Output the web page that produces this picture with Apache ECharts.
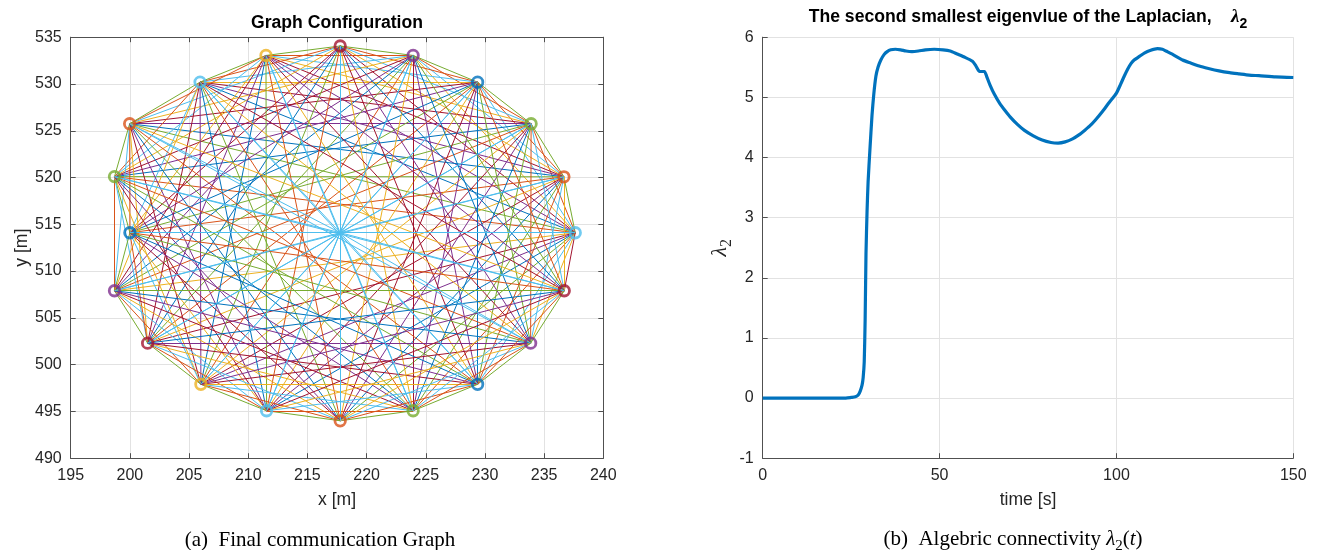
<!DOCTYPE html>
<html><head><meta charset="utf-8">
<script src="https://cdn.jsdelivr.net/npm/echarts@6/dist/echarts.min.js"></script>
<style>html,body{margin:0;padding:0;background:#fff}#c{width:1317px;height:550px}</style>
</head><body><div id="c"></div>
<script>
// ---- data ----
// agents on the final formation, listed counter-clockwise starting at the rightmost one
const nodeX = [237.63,236.67,233.90,229.38,223.93,217.77,211.50,205.93,199.98,198.70,200.00,198.70,201.50,206.00,211.55,217.77,223.93,229.38,233.86,236.70];
const nodeY = [514.10,520.08,525.75,530.19,533.05,534.06,533.05,530.20,525.75,520.10,514.10,507.90,502.30,497.90,495.07,494.00,495.07,497.90,502.30,507.90];
const centerXY = [217.77, 514.10];
// algebraic connectivity over time
const timeS   = [0,10,20,23.5,25,26.2,27,27.6,28.1,28.4,28.7,28.96,29.2,29.5,29.8,30.3,30.9,31.4,32.0,32.6,33.4,34.3,35.2,36.2,37.5,39,40.5,42.2,44,46,48.5,51,53,55,57,59.3,60.3,61.3,62.7,63.3,64.3,65.5,67,68.5,70,72,74,76.5,79,81.5,83.5,85.5,87.6,89.5,91,92.4,94,96.1,98,100,101.2,102.2,103.2,104.1,105,106.5,108,109.5,111.6,113,114,116,118.7,121,123.4,126,129,132,134.7,137.5,140.3,145,150];
const lambda2 = [0,0,0,0,0.01,0.02,0.05,0.12,0.22,0.34,0.6,1.3,2.4,3.1,3.6,4.12,4.7,5.05,5.35,5.5,5.62,5.71,5.76,5.79,5.80,5.79,5.77,5.76,5.77,5.79,5.80,5.79,5.77,5.72,5.67,5.60,5.52,5.43,5.43,5.35,5.20,5.05,4.90,4.78,4.67,4.55,4.45,4.36,4.29,4.25,4.24,4.26,4.31,4.38,4.45,4.52,4.62,4.77,4.92,5.07,5.22,5.35,5.47,5.56,5.62,5.68,5.74,5.78,5.81,5.80,5.77,5.71,5.62,5.57,5.52,5.48,5.44,5.41,5.39,5.37,5.36,5.34,5.33];
// axis ranges [min, max, step]
const graphXAxis = [195, 240, 5];
const graphYAxis = [490, 535, 5];
const timeAxis   = [0, 150, 50];
const lambdaAxis = [-1, 6, 1];

// ---- styles ----
const palette = ['#0072BD','#D95319','#EDB120','#7E2F8E','#77AC30','#4DBEEE','#A2142F'];
const FF = 'Liberation Sans, Arial, sans-serif';
const SERIF = 'Liberation Serif, Times New Roman, serif';
const TXT = '#262626';
const AX = '#505050';
const GRIDC = '#e2e2e2';

const edges = [];
for (let a = 0; a < nodeX.length; a++) {
  for (let b = a + 1; b < nodeX.length; b++) {
    edges.push({coords: [[nodeX[a], nodeY[a]], [nodeX[b], nodeY[b]]],
      lineStyle: {color: palette[(4 * (b - a)) % 7]}});
  }
}
const spokes = nodeX.map((x, i) => ({coords: [centerXY, [x, nodeY[i]]]}));
const nodes = nodeX.map((x, i) => ({value: [x, nodeY[i]],
  itemStyle: {color: 'rgba(255,255,255,0)', borderColor: palette[(5 + 3 * i) % 7], borderWidth: 2.8}}));

function valAxis(grid, rng, pos, opts) {
  return Object.assign({
    gridIndex: grid, type: 'value', min: rng[0], max: rng[1], interval: rng[2], position: pos,
    axisLine: {show: true, onZero: false, lineStyle: {color: AX, width: 1}},
    axisTick: {show: true, inside: true, length: 5, lineStyle: {color: AX}},
    axisLabel: {show: true, color: TXT, fontSize: 16, fontFamily: FF, margin: 9},
    splitLine: {show: true, lineStyle: {color: GRIDC, width: 1}}
  }, opts || {});
}
const noLab = {axisLabel: {show: false}, splitLine: {show: false}};

const chart = echarts.init(document.getElementById('c'), null, {renderer: 'canvas'});
chart.setOption({
  animation: false,
  backgroundColor: '#fff',
  grid: [
    {left: 70.7, top: 37.2, width: 532.6, height: 421},
    {left: 762.7, top: 37.2, width: 530.6, height: 421}
  ],
  xAxis: [
    valAxis(0, graphXAxis, 'bottom', {name: 'x [m]', nameLocation: 'middle', nameGap: 33,
      nameTextStyle: {color: TXT, fontSize: 17.6, fontFamily: FF}}),
    valAxis(0, graphXAxis, 'top', noLab),
    valAxis(1, timeAxis, 'bottom', {name: 'time [s]', nameLocation: 'middle', nameGap: 33,
      nameTextStyle: {color: TXT, fontSize: 17.6, fontFamily: FF}})
  ],
  yAxis: [
    valAxis(0, graphYAxis, 'left', {name: 'y [m]', nameLocation: 'middle', nameGap: 38, nameRotate: 90,
      nameTextStyle: {color: TXT, fontSize: 17.6, fontFamily: FF}}),
    valAxis(0, graphYAxis, 'right', noLab),
    valAxis(1, lambdaAxis, 'left', {name: '{l|λ}{s|2}', nameLocation: 'middle', nameGap: 28, nameRotate: 90,
      nameTextStyle: {color: TXT, rich: {
        l: {fontSize: 22, fontFamily: SERIF, fontStyle: 'italic', color: TXT, lineHeight: 28, verticalAlign: 'middle'},
        s: {fontSize: 16, fontFamily: SERIF, color: TXT, lineHeight: 14, verticalAlign: 'bottom'}}}})
  ],
  title: [
    {text: 'Graph Configuration', left: 337, top: 14, textAlign: 'center', padding: 0,
      textStyle: {fontSize: 17.6, fontWeight: 'bold', color: '#000', fontFamily: FF}},
    {text: '{a|The second smallest eigenvlue of the Laplacian,    }{l|λ}{s|2}', left: 1028, top: 3, textAlign: 'center', padding: 0,
      textStyle: {rich: {
        a: {fontSize: 17.6, fontWeight: 'bold', color: '#000', fontFamily: FF, lineHeight: 28, verticalAlign: 'middle'},
        l: {fontSize: 19, fontWeight: 'bold', fontStyle: 'italic', color: '#000', fontFamily: SERIF, lineHeight: 28, verticalAlign: 'middle'},
        s: {fontSize: 14, fontWeight: 'bold', color: '#000', fontFamily: FF, lineHeight: 13, verticalAlign: 'bottom'}}}},
    {text: '(a)  Final communication Graph', left: 320, top: 530, textAlign: 'center', padding: 0,
      textStyle: {fontSize: 21, color: '#000', fontFamily: SERIF, fontWeight: 'normal'}},
    {text: '{a|(b)  Algebric connectivity }{l|λ}{s|2}{a|(}{l|t}{a|)}', left: 1013, top: 524, textAlign: 'center', padding: 0,
      textStyle: {fontWeight: 'normal', rich: {
        a: {fontSize: 21, fontWeight: 'normal', color: '#000', fontFamily: SERIF, lineHeight: 30, verticalAlign: 'middle'},
        l: {fontSize: 21, fontWeight: 'normal', color: '#000', fontFamily: SERIF, fontStyle: 'italic', lineHeight: 30, verticalAlign: 'middle'},
        s: {fontSize: 15, fontWeight: 'normal', color: '#000', fontFamily: SERIF, lineHeight: 15, verticalAlign: 'bottom'}}}}
  ],
  series: [
    {type: 'lines', coordinateSystem: 'cartesian2d', xAxisIndex: 0, yAxisIndex: 0, silent: true,
      lineStyle: {width: 1, opacity: 1}, data: edges, z: 2},
    {type: 'lines', coordinateSystem: 'cartesian2d', xAxisIndex: 0, yAxisIndex: 0, silent: true,
      lineStyle: {width: 1, opacity: 1, color: palette[5]}, data: spokes, z: 3},
    {type: 'scatter', xAxisIndex: 0, yAxisIndex: 0, symbol: 'circle', symbolSize: 10.5, silent: true,
      data: nodes, z: 4},
    {type: 'line', xAxisIndex: 2, yAxisIndex: 2, showSymbol: false, silent: true, smooth: 0.2,
      lineStyle: {color: '#0072BD', width: 3.2}, itemStyle: {color: '#0072BD'},
      data: timeS.map((t, i) => [t, lambda2[i]]), z: 3}
  ]
});
</script></body></html>
